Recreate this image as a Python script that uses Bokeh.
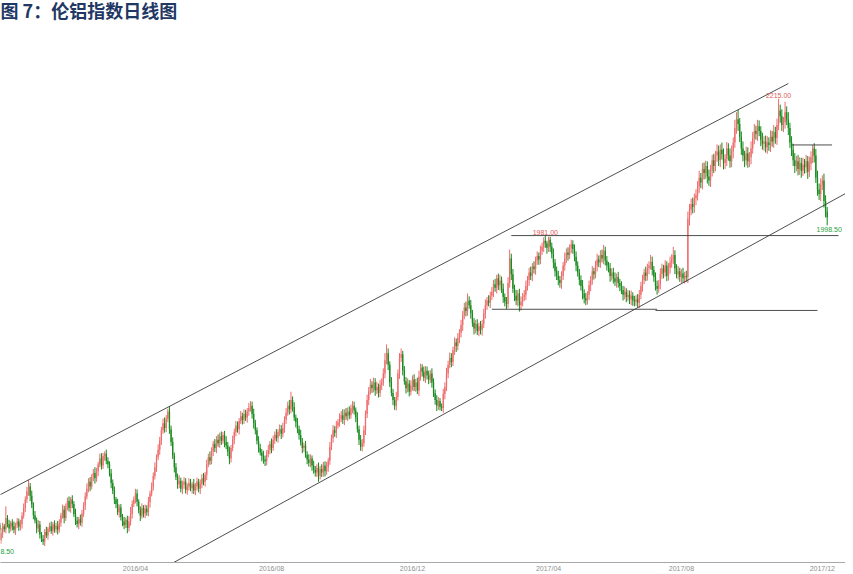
import pandas as pd
from bokeh.plotting import figure
from bokeh.models import Range1d, FixedTicker, ColumnDataSource, Label
from bokeh.embed import file_html
from bokeh.resources import INLINE
from bokeh.core.properties import value

title_text = "图 7：伦铝指数日线图"

first_date = "2015-11-23"
calendar_end = "2017-12-29"
holidays = ["2015-12-25", "2015-12-28", "2016-01-01", "2016-03-25", "2016-03-28",
            "2016-05-02", "2016-05-30", "2016-08-29", "2016-12-26", "2016-12-27",
            "2017-01-02", "2017-04-14", "2017-04-17", "2017-05-01", "2017-05-29",
            "2017-08-28", "2017-12-25", "2017-12-26"]

first_open = 1480
closes = [
    1486, 1478, 1490, 1482, 1474, 1460, 1472, 1484, 1479, 1498,
    1488, 1480, 1490, 1484, 1478, 1486, 1492, 1483, 1488, 1502,
    1515, 1530, 1544, 1552, 1536, 1521, 1503, 1494, 1480, 1487,
    1470, 1462, 1458, 1474, 1468, 1480, 1484, 1476, 1487, 1479,
    1485, 1478, 1490, 1503, 1512, 1498, 1518, 1527, 1515, 1530,
    1522, 1505, 1494, 1488, 1496, 1490, 1506, 1520, 1535, 1548,
    1560, 1552, 1568, 1575, 1566, 1578, 1590, 1600, 1588, 1604,
    1608, 1596, 1590, 1574, 1558, 1545, 1530, 1522, 1508, 1516,
    1500, 1492, 1486, 1495, 1481, 1492, 1505, 1522, 1530, 1540,
    1526, 1512, 1502, 1515, 1506, 1514, 1508, 1525, 1540, 1552,
    1570, 1585, 1602, 1615, 1630, 1648, 1660, 1652, 1668, 1680,
    1650, 1628, 1605, 1585, 1568, 1556, 1562, 1548, 1555, 1560,
    1546, 1552, 1558, 1549, 1556, 1545, 1552, 1560, 1548, 1556,
    1566, 1560, 1572, 1590, 1602, 1596, 1612, 1625, 1618, 1632,
    1626, 1638, 1630, 1640, 1628, 1622, 1612, 1600, 1618, 1632,
    1645, 1656, 1650, 1664, 1672, 1666, 1676, 1670, 1680, 1686,
    1690, 1676, 1660, 1648, 1630, 1618, 1610, 1604, 1598, 1595,
    1608, 1615, 1625, 1618, 1632, 1640, 1635, 1645, 1650, 1642,
    1652, 1666, 1678, 1690, 1684, 1700, 1688, 1670, 1662, 1650,
    1640, 1628, 1618, 1622, 1606, 1598, 1592, 1600, 1588, 1580,
    1576, 1584, 1570, 1582, 1576, 1588, 1578, 1585, 1596, 1620,
    1635, 1648, 1644, 1656, 1662, 1668, 1674, 1666, 1678, 1672,
    1680, 1674, 1686, 1690, 1682, 1670, 1650, 1632, 1620, 1626,
    1648, 1676, 1700, 1715, 1726, 1720, 1730, 1716, 1722, 1712,
    1726, 1730, 1745, 1768, 1780, 1760, 1730, 1712, 1700, 1690,
    1705, 1745, 1772, 1778, 1750, 1732, 1720, 1728, 1714, 1725,
    1735, 1722, 1730, 1716, 1740, 1755, 1748, 1738, 1750, 1742,
    1735, 1745, 1730, 1712, 1700, 1690, 1698, 1688, 1686, 1710,
    1722, 1745, 1760, 1772, 1765, 1785, 1798, 1792, 1806, 1815,
    1828, 1845, 1858, 1852, 1870, 1862, 1848, 1832, 1822, 1830,
    1818, 1826, 1820, 1830, 1848, 1862, 1870, 1866, 1878, 1885,
    1898, 1892, 1908, 1896, 1904, 1890, 1876, 1868, 1864, 1900,
    1942, 1915, 1890, 1878, 1870, 1882, 1862, 1868, 1876, 1880,
    1895, 1905, 1918, 1912, 1928, 1924, 1938, 1946, 1940, 1955,
    1962, 1972, 1968, 1960, 1974, 1962, 1950, 1935, 1920, 1912,
    1905, 1900, 1912, 1930, 1942, 1952, 1948, 1960, 1966, 1958,
    1945, 1930, 1918, 1905, 1895, 1882, 1874, 1870, 1880, 1896,
    1905, 1920, 1915, 1930, 1940, 1935, 1948, 1942, 1955, 1938,
    1930, 1925, 1912, 1918, 1908, 1902, 1910, 1900, 1895, 1888,
    1880, 1885, 1876, 1880, 1872, 1878, 1870, 1868, 1872, 1866,
    1880, 1895, 1905, 1918, 1912, 1925, 1930, 1936, 1922, 1910,
    1895, 1890, 1898, 1915, 1925, 1918, 1930, 1912, 1926, 1935,
    1940, 1948, 1925, 1915, 1920, 1910, 1916, 1908, 1912, 1910,
    2010, 2025, 2035, 2030, 2045, 2050, 2065, 2080, 2072, 2095,
    2088, 2100, 2082, 2075, 2092, 2110, 2100, 2118, 2125, 2110,
    2128, 2120, 2105, 2112, 2130, 2118, 2108, 2125, 2140, 2165,
    2180, 2172, 2150, 2130, 2118, 2110, 2122, 2108, 2115, 2130,
    2148, 2160, 2155, 2168, 2160, 2145, 2138, 2142, 2132, 2140,
    2136, 2150, 2142, 2158, 2148, 2170, 2195, 2185, 2170, 2175,
    2192, 2180, 2165, 2140, 2128, 2110, 2100, 2108, 2095, 2105,
    2092, 2102, 2098, 2108, 2090, 2104, 2115, 2130, 2118, 2080,
    2060, 2052, 2068, 2075, 2040, 2022, 2012,
]

wick_up = [
    6, 4, 8, 5, 7, 3, 9, 6, 4, 20,
    5, 7, 3, 6, 8, 4, 6, 5, 7, 6,
    8, 5, 7, 11, 6, 9, 4, 7, 5, 8,
    6, 4, 7, 5, 9, 3, 6, 8, 4, 7,
    5, 8, 6, 4, 9, 7, 5, 6, 8, 4,
    7, 5, 9, 6, 4, 8, 6, 5, 7, 9,
    6, 8, 5, 7, 10, 6, 4, 8, 9, 5,
    4, 7, 6, 5, 8, 6, 7, 4, 9, 5,
    6, 5, 8, 4, 7, 9, 12, 6, 5, 8,
    7, 4, 6, 8, 5, 7, 6, 9, 5, 7,
    6, 8, 5, 9, 7, 6, 8, 10, 6, 5,
    9, 6, 8, 5, 7, 6, 9, 5, 7, 8,
    6, 5, 8, 7, 4, 9, 6, 7, 5, 8,
    7, 9, 5, 8, 6, 10, 7, 5, 8, 6,
    9, 6, 8, 5, 7, 10, 6, 8, 5, 7,
    6, 8, 7, 5, 9, 6, 8, 7, 6, 9,
    8, 7, 9, 6, 5, 8, 7, 6, 9, 7,
    6, 8, 5, 9, 7, 6, 10, 5, 8, 7,
    9, 6, 8, 7, 10, 14, 6, 8, 5, 7,
    6, 9, 7, 5, 8, 6, 9, 7, 5, 8,
    7, 6, 9, 5, 8, 6, 7, 9, 5, 8,
    6, 9, 7, 8, 5, 9, 7, 10, 6, 8,
    7, 9, 6, 8, 7, 5, 9, 6, 8, 7,
    8, 6, 9, 7, 10, 6, 8, 7, 9, 6,
    8, 7, 9, 12, 15, 8, 6, 9, 7, 5,
    9, 7, 8, 10, 6, 8, 7, 9, 6, 8,
    7, 9, 6, 8, 10, 7, 6, 9, 8, 7,
    8, 6, 9, 7, 6, 8, 7, 5, 6, 9,
    8, 10, 7, 9, 8, 6, 9, 7, 8, 6,
    9, 7, 8, 10, 12, 7, 9, 6, 8, 7,
    8, 6, 9, 7, 8, 10, 6, 9, 7, 8,
    7, 9, 6, 8, 10, 7, 9, 6, 8, 10,
    15, 8, 9, 7, 10, 6, 8, 9, 7, 8,
    9, 7, 8, 10, 6, 9, 7, 8, 6, 9,
    7, 6, 9, 4, 5, 5, 7, 9, 6, 8,
    9, 7, 8, 6, 10, 7, 9, 6, 8, 7,
    8, 9, 7, 6, 8, 10, 7, 9, 6, 8,
    7, 9, 6, 8, 10, 7, 8, 9, 10, 7,
    8, 6, 9, 7, 8, 10, 6, 9, 7, 8,
    7, 9, 6, 8, 7, 9, 6, 8, 7, 9,
    8, 7, 9, 6, 10, 8, 7, 12, 9, 7,
    8, 9, 7, 10, 8, 6, 9, 7, 8, 10,
    9, 14, 8, 7, 9, 6, 8, 10, 7, 9,
    12, 10, 9, 11, 8, 10, 9, 12, 8, 10,
    11, 9, 8, 12, 10, 9, 11, 8, 12, 10,
    9, 12, 10, 8, 11, 9, 12, 10, 9, 14,
    12, 16, 10, 9, 12, 8, 11, 10, 9, 12,
    10, 12, 9, 11, 10, 8, 12, 9, 10, 11,
    9, 11, 10, 12, 9, 11, 20, 10, 12, 9,
    18, 10, 12, 9, 11, 10, 12, 9, 11, 10,
    9, 12, 10, 11, 9, 12, 10, 6, 9, 11,
    12, 10, 11, 9, 12, 10, 8,
]

wick_down = [
    8, 6, 6, 5, 7, 11.5, 6, 8, 5, 7,
    6, 8, 5, 7, 6, 9, 5, 7, 6, 8,
    5, 7, 6, 8, 9, 6, 7, 5, 8, 6,
    7, 5, 6, 8, 4, 7, 6, 5, 8, 6,
    6, 8, 5, 7, 6, 9, 5, 7, 6, 8,
    7, 5, 8, 6, 9, 5, 7, 6, 8, 5,
    6, 8, 5, 7, 9, 6, 8, 5, 7, 6,
    8, 6, 7, 5, 9, 6, 8, 7, 5, 9,
    6, 8, 7, 5, 9, 6, 7, 8, 5, 7,
    8, 6, 9, 5, 7, 8, 6, 7, 9, 5,
    7, 6, 8, 5, 9, 7, 6, 8, 7, 6,
    8, 7, 6, 9, 5, 8, 7, 6, 9, 7,
    6, 8, 7, 5, 9, 6, 8, 7, 6, 9,
    7, 6, 8, 9, 5, 7, 6, 8, 7, 9,
    6, 8, 7, 5, 9, 6, 8, 10, 7, 6,
    8, 7, 6, 9, 5, 8, 7, 6, 9, 7,
    6, 8, 9, 7, 6, 8, 5, 9, 7, 8,
    7, 6, 8, 9, 5, 7, 6, 8, 7, 9,
    6, 8, 7, 5, 9, 7, 8, 6, 9, 7,
    8, 6, 9, 7, 5, 8, 6, 7, 9, 6,
    7, 8, 10, 6, 8, 7, 9, 6, 8, 7,
    6, 8, 7, 9, 5, 8, 6, 7, 9, 6,
    8, 7, 6, 9, 7, 8, 6, 9, 7, 8,
    6, 8, 7, 9, 6, 8, 7, 9, 6, 8,
    7, 9, 6, 8, 7, 9, 8, 6, 9, 7,
    8, 6, 9, 7, 8, 6, 9, 7, 8, 6,
    9, 7, 8, 6, 9, 7, 8, 6, 9, 7,
    8, 6, 9, 7, 8, 9, 7, 6, 5, 8,
    9, 7, 8, 6, 9, 7, 8, 10, 7, 9,
    8, 10, 7, 9, 8, 6, 9, 7, 10, 8,
    7, 9, 8, 10, 7, 9, 8, 6, 9, 7,
    9, 7, 10, 8, 9, 7, 10, 8, 9, 7,
    8, 10, 7, 9, 8, 10, 11, 9, 8, 7,
    9, 8, 10, 7, 9, 8, 10, 7, 9, 8,
    7, 9, 8, 10, 7, 9, 8, 10, 9, 7,
    9, 8, 10, 7, 9, 8, 10, 7, 9, 8,
    8, 10, 7, 9, 8, 10, 9, 8, 7, 9,
    10, 8, 9, 7, 10, 8, 9, 7, 10, 8,
    9, 7, 10, 8, 9, 7, 10, 8, 9, 7,
    10, 8, 9, 7, 8, 10, 9, 8, 7, 8,
    9, 8, 10, 7, 9, 8, 10, 7, 9, 8,
    8, 10, 7, 9, 8, 10, 7, 9, 8, 10,
    9, 8, 10, 7, 9, 8, 10, 7, 9, 8,
    10, 12, 9, 11, 10, 12, 9, 11, 10, 12,
    11, 10, 12, 9, 11, 10, 12, 9, 11, 10,
    12, 9, 11, 10, 12, 9, 11, 10, 12, 9,
    10, 12, 9, 11, 10, 12, 9, 11, 10, 12,
    9, 11, 10, 12, 9, 11, 10, 12, 9, 11,
    10, 12, 9, 11, 10, 12, 9, 11, 10, 12,
    11, 10, 12, 9, 11, 10, 12, 9, 11, 10,
    12, 9, 11, 10, 12, 9, 11, 10, 12, 9,
    11, 10, 12, 9, 11, 10, 13.5,
]

tick_months = ["2016-04", "2016-08", "2016-12", "2017-04", "2017-08", "2017-12"]
tick_labels = ["2016/04", "2016/08", "2016/12", "2017/04", "2017/08", "2017/12"]

# analyst lines: (start date, start price) -> (end date, end price)
line_start_dates = ["2015-11-23", "2016-04-28", "2017-03-01", "2017-02-13", "2017-07-10", "2017-11-06"]
line_start_prices = [1530, 1415, 1981, 1855, 1853, 2136]
line_end_dates = ["2017-11-02", "2017-12-22", "2017-12-15", "2017-07-11", "2017-11-28", "2017-12-11"]
line_end_prices = [2241, 2054, 1981, 1855, 1853, 2136]

# annotated extremes: kind, window start, window end
ann_kind = ["low", "high", "high", "low"]
ann_from = ["2015-11-01", "2015-11-01", "2017-01-01", "2017-11-01"]
ann_to = ["2017-12-31", "2017-12-31", "2017-07-31", "2017-12-31"]

# ---------------------------------------------------------------------------
days = pd.bdate_range(first_date, calendar_end)
days = days[~days.isin(pd.to_datetime(holidays))]
n = len(closes)


def pos(date_str):
    return int(days.searchsorted(pd.Timestamp(date_str)))


opens = [first_open] + closes[:-1]
highs = [max(o, c) + u for o, c, u in zip(opens, closes, wick_up)]
lows = [min(o, c) - d for o, c, d in zip(opens, closes, wick_down)]
up_color = "#EE6B6B"
down_color = "#168A1C"
colors = [up_color if c >= o else down_color for o, c in zip(opens, closes)]
xs = list(range(n))

src = ColumnDataSource(dict(
    x=xs, high=highs, low=lows,
    top=[max(o, c) for o, c in zip(opens, closes)],
    bottom=[min(o, c) for o, c in zip(opens, closes)],
    color=colors,
))

FIG_H = 574
AXIS_H = 12
p = figure(width=845, height=FIG_H, output_backend="svg", toolbar_location=None,
           y_axis_location=None,
           x_range=Range1d(pos("2015-11-30") + 0.7, pos("2017-12-21") + 0.3),
           y_range=Range1d(1422, 2383),
           min_border_left=0, min_border_right=0, min_border_top=0, min_border_bottom=0)
p.outline_line_color = None
p.grid.visible = False
p.background_fill_color = "white"

p.segment(x0="x", y0="high", x1="x", y1="low", color="color", line_width=1, source=src)
p.vbar(x="x", top="top", bottom="bottom", width=0.8, fill_color="color",
       line_color=None, source=src)

# analyst lines
p.segment(x0=[pos(d) for d in line_start_dates], y0=line_start_prices,
          x1=[pos(d) for d in line_end_dates], y1=line_end_prices,
          line_color="#3A3A3A", line_width=0.9)

# extreme annotations
hx, hy, ht, lx, ly, lt = [], [], [], [], [], []
for kind, a, b in zip(ann_kind, ann_from, ann_to):
    i0, i1 = max(pos(a), 0), min(pos(b), n)
    seg = range(i0, i1)
    if kind == "high":
        i = max(seg, key=lambda k: highs[k])
        hx.append(i); hy.append(highs[i]); ht.append(f"{highs[i]:.2f}")
    else:
        i = min(seg, key=lambda k: lows[k])
        lx.append(i); ly.append(lows[i]); lt.append(f"{lows[i]:.2f}")

p.text(x=hx, y=hy, text=ht, text_font=value("Liberation Sans"), text_font_size="7px",
       text_align="center", text_baseline="bottom", text_color="#E05A5A", y_offset=-1)
p.text(x=lx, y=ly, text=lt, text_font=value("Liberation Sans"), text_font_size="7px",
       text_align="center", text_baseline="top", text_color="#1FA03C", y_offset=2,
       x_offset=2)

# x axis
tick_pos = []
for m in tick_months:
    tick_pos.append(int(next(i for i, d in enumerate(days) if d.strftime("%Y-%m") == m)))
p.xaxis.ticker = FixedTicker(ticks=tick_pos)
p.xaxis.major_label_overrides = {t: l for t, l in zip(tick_pos, tick_labels)}
p.xaxis.axis_line_color = "#A8A8A8"
p.xaxis.major_tick_line_color = None
p.xaxis.minor_tick_line_color = None
p.xaxis.major_tick_out = 0
p.xaxis.minor_tick_out = 0
p.xaxis.major_label_text_font = "Liberation Sans"
p.xaxis.major_label_text_font_size = "7px"
p.xaxis.major_label_text_color = "#8F8F8F"
p.xaxis.major_label_standoff = 2

# title, placed at the top-left corner of the figure (screen y counts from the frame bottom)
p.add_layout(Label(x=0, y=FIG_H - AXIS_H + 4, x_units="screen", y_units="screen",
                   text=title_text,
                   text_font="Noto Sans CJK SC", text_font_size="18px",
                   text_font_style="bold", text_color="#1F3864",
                   text_baseline="top", text_align="left"))

open("out.html", "w").write(file_html(p, INLINE))
